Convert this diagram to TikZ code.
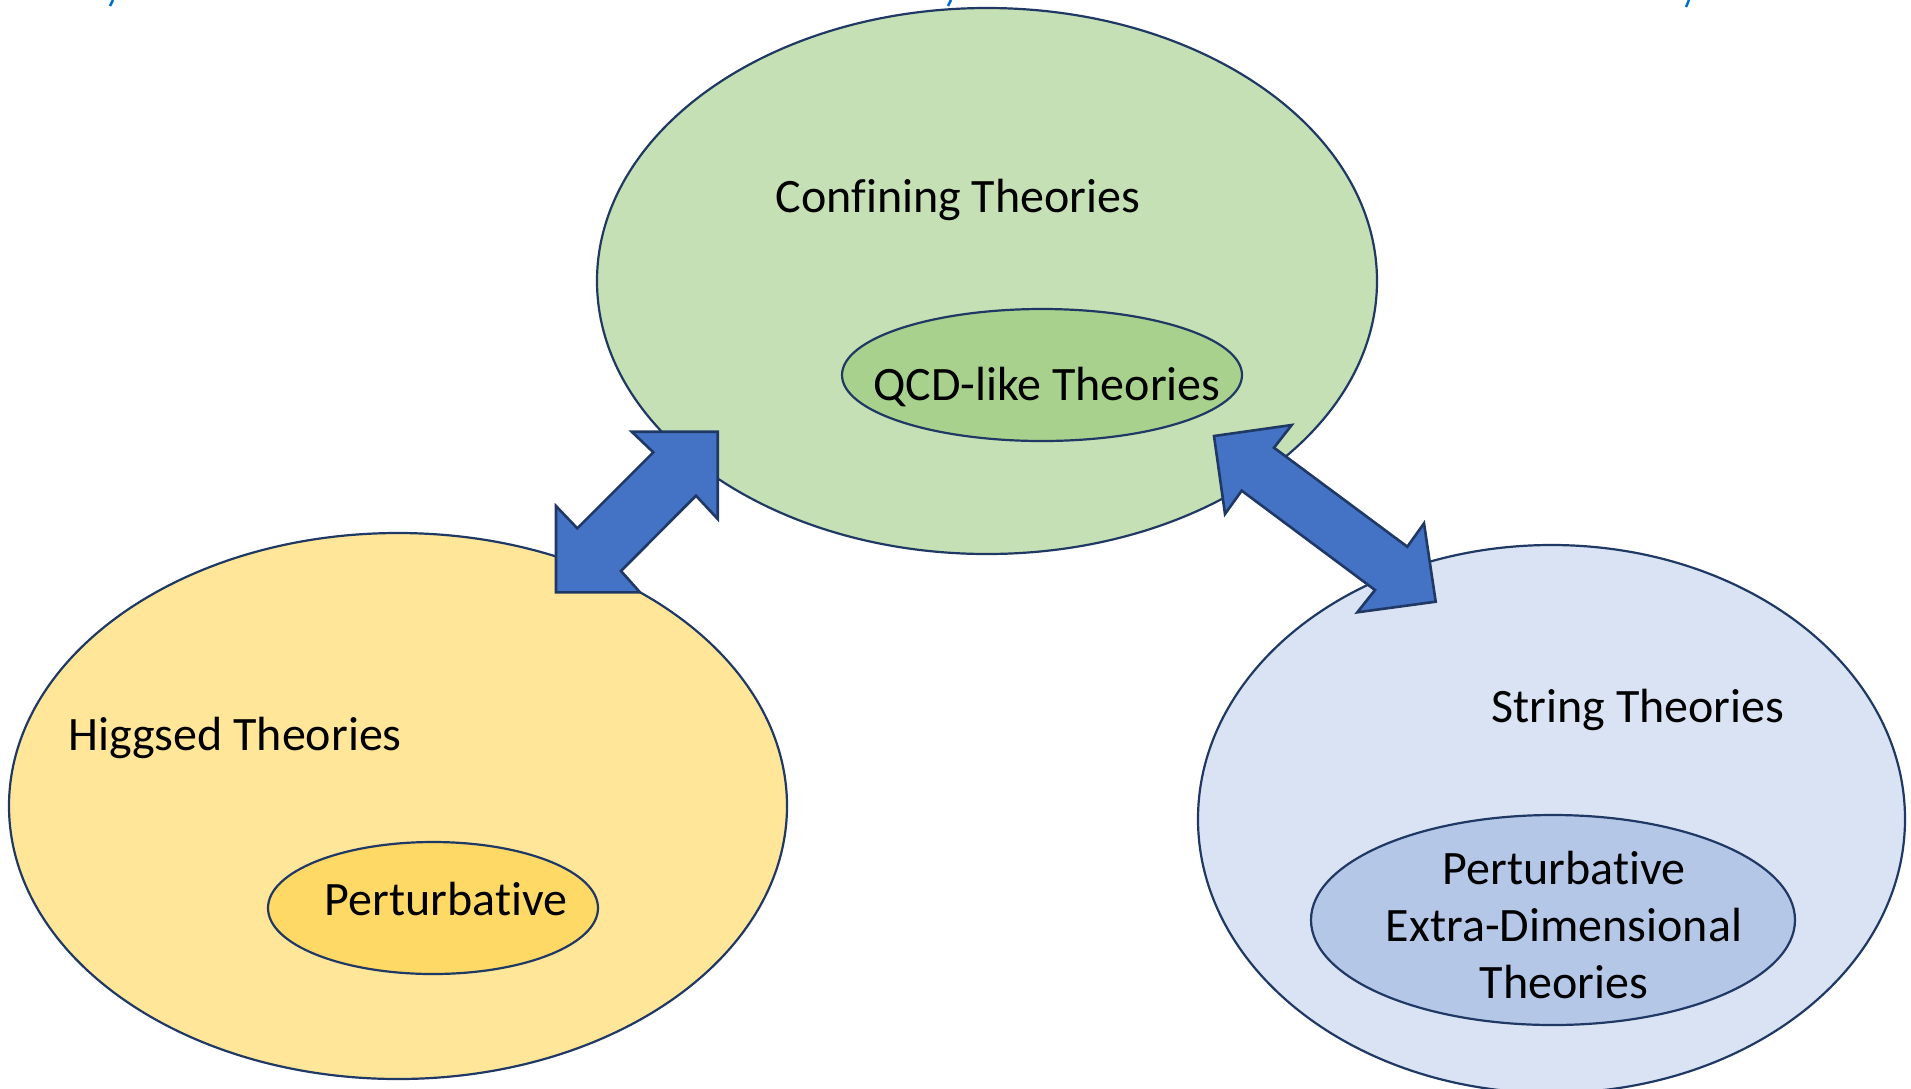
\documentclass[tikz,border=0pt]{standalone}
\usepackage{fontspec}
\setmainfont[Ligatures=NoCommon]{Carlito}
\definecolor{outl}{HTML}{1F3864}
\definecolor{gBig}{HTML}{C5E0B4}
\definecolor{gSm}{HTML}{A9D18E}
\definecolor{yBig}{HTML}{FFE699}
\definecolor{ySm}{HTML}{FFD966}
\definecolor{bBig}{HTML}{DAE3F3}
\definecolor{bSm}{HTML}{B4C7E7}
\definecolor{arrowc}{HTML}{4472C4}
\definecolor{frag}{HTML}{0070C0}
\begin{document}
\begin{tikzpicture}[x=1pt,y=-1pt,
  blob/.style={draw=outl,line width=2.2pt},
  lbl/.style={font=\fontsize{48}{57}\selectfont,text=black,inner sep=0pt,align=center},
  bigarrow/.style={draw=outl,line width=2.6pt,fill=arrowc,line join=miter}]
\useasboundingbox (0,0) rectangle (1911,1088);
% ellipses
\path[blob,fill=gBig] (987,281) ellipse [x radius=390,y radius=273];
\path[blob,fill=gSm] (1042,375) ellipse [x radius=200,y radius=66];
\path[blob,fill=yBig] (398,806) ellipse [x radius=389,y radius=273];
\path[blob,fill=ySm] (433,908) ellipse [x radius=165,y radius=66];
\path[blob,fill=bBig] (1551.5,819) ellipse [x radius=353.5,y radius=274];
\path[blob,fill=bSm] (1553,920) ellipse [x radius=242,y radius=105];
% labels
\node[lbl] (conf) at (958,200) {Confining Theories};
\node[lbl] (qcd) at (1047,387) {QCD-like Theories};
\node[lbl] (higgs) at (235,738) {Higgsed Theories};
\node[lbl] (pert) at (446,899) {Perturbative};
\node[lbl] (string) at (1638,710) {String Theories};
\node[lbl] (ped) at (1564,925) {Perturbative\\Extra-Dimensional\\Theories};
% arrows
\draw[bigarrow] (717.7,431.7) -- (717.7,519) -- (696,495.7) -- (621,571) -- (640,592.3)
  -- (556,592.3) -- (556,506) -- (577.3,528.3) -- (653.3,452.3) -- (631.7,431.7) -- cycle;
\draw[bigarrow] (1214,436) -- (1291.7,425) -- (1274,447.7) -- (1407.3,546.7) -- (1424,523.3)
  -- (1435.7,601.7) -- (1357.3,612.3) -- (1375,590) -- (1241.7,490.7) -- (1225,514) -- cycle;
% clipped text fragments at top edge
\draw[frag,line width=2.5pt] (113,0) -- (110,6);
\draw[frag,line width=2.5pt] (951,0) -- (948,6);
\draw[frag,line width=2.5pt] (1689,0) -- (1686,7);
\end{tikzpicture}
\end{document}
